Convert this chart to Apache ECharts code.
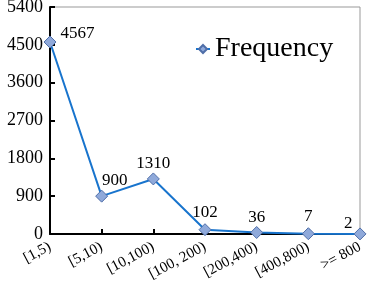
<!DOCTYPE html>
<html><head><meta charset="utf-8">
<script src="https://cdn.jsdelivr.net/npm/echarts@6/dist/echarts.min.js"></script>
<style>html,body{margin:0;padding:0;background:#fff}#c{width:374px;height:281px}</style>
</head><body><div id="c"></div>
<script>
const categories = ['[1,5)', '[5,10)', '[10,100)', '[100, 200)', '[200,400)', '[400,800)', '>= 800'];
const frequency = [4567, 900, 1310, 102, 36, 7, 2];
const yTicks = [0, 900, 1800, 2700, 3600, 4500, 5400];

const F = 'Liberation Serif';
const chart = echarts.init(document.getElementById('c'));
const data = frequency.map((v, i) => {
  const d = {value: v};
  if (i === 0) d.label = {position: 'right', offset: [2, -8]};
  if (i === 1) d.label = {position: 'top', offset: [13, 1]};
  if (i === 2) d.label = {position: 'top', offset: [0, 2]};
  if (i === 4) d.label = {position: 'top', offset: [0, 2]};
  if (i === 6) d.label = {position: 'left', offset: [1, -10]};
  return d;
});
chart.setOption({
  animation: false,
  grid: {left: 50, right: 14, top: 7, bottom: 47, show: true, borderColor: '#999', borderWidth: 1, outerBoundsMode: 'none', containLabel: false},
  legend: {
    data: ['Frequency'], left: 190, top: 30, itemWidth: 14, itemHeight: 10, padding: 5,
    textStyle: {fontFamily: F, fontSize: 28, color: '#000'}
  },
  xAxis: {
    type: 'category', data: categories, boundaryGap: false,
    axisLine: {lineStyle: {color: '#000', width: 2}},
    axisTick: {inside: true, length: 5, lineStyle: {color: '#000', width: 2}},
    axisLabel: {rotate: 28, fontFamily: F, fontSize: 15, color: '#000', margin: 12, interval: 0}
  },
  yAxis: {
    type: 'value', min: 0, max: 5400, interval: 900,
    axisLine: {show: true, lineStyle: {color: '#000', width: 2}},
    axisTick: {show: true, inside: true, length: 5, lineStyle: {color: '#000', width: 2}},
    splitLine: {show: false},
    axisLabel: {fontFamily: F, fontSize: 18, color: '#000', margin: 7, formatter: v => yTicks.includes(v) ? String(v) : ''}
  },
  series: [{
    name: 'Frequency', type: 'line', data: data,
    symbol: 'diamond', symbolSize: 12,
    lineStyle: {color: '#1874cd', width: 2},
    itemStyle: {color: '#8fa9da', borderColor: '#4f6ea8', borderWidth: 1},
    label: {show: true, position: 'top', distance: 2, fontFamily: F, fontSize: 17, color: '#000'}
  }]
});
</script></body></html>
